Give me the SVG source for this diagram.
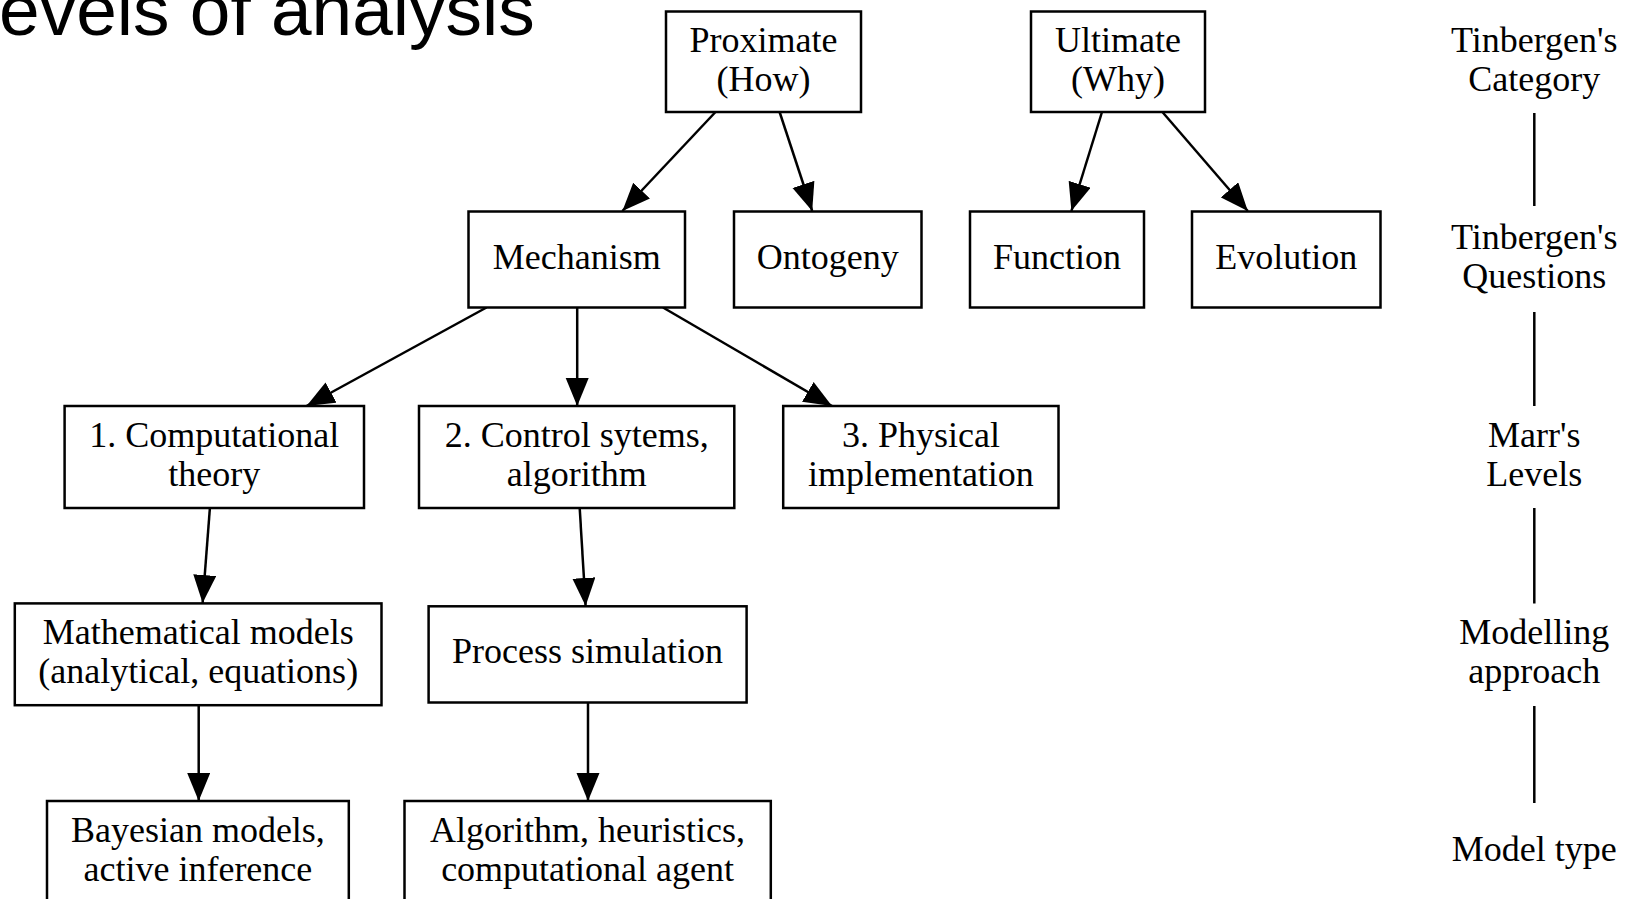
<svg xmlns="http://www.w3.org/2000/svg" width="1640" height="899" viewBox="0 0 1640 899">
  <style>
    .box { fill: #ffffff; stroke: #000000; stroke-width: 2.5; }
    .lbl { font-family: "Liberation Serif", "Times New Roman", serif; font-size: 36px; fill: #000000; text-anchor: middle; }
    .edge { fill: none; stroke: #000000; stroke-width: 2.5; }
    .title { font-family: "Liberation Sans", Arial, sans-serif; font-size: 73px; fill: #000000; }
  </style>
  <defs>
    <marker id="head" markerUnits="userSpaceOnUse" markerWidth="30" markerHeight="24" refX="28" refY="11.5" orient="auto">
      <path d="M0,0 L28,11.5 L0,23 z" fill="#000000"/>
    </marker>
  </defs>
  <rect width="1640" height="899" fill="#ffffff"/>

  <text class="title" x="-41.5" y="34.5">Levels of analysis</text>

  <!-- connectors -->
  <g id="connectors">
    <line class="edge" x1="715.5" y1="112" x2="622.4" y2="211" marker-end="url(#head)"/>
    <line class="edge" x1="779.6" y1="112" x2="812.2" y2="211" marker-end="url(#head)"/>
    <line class="edge" x1="1102" y1="112" x2="1071.4" y2="211" marker-end="url(#head)"/>
    <line class="edge" x1="1162.4" y1="112" x2="1247.8" y2="211" marker-end="url(#head)"/>
    <line class="edge" x1="486.5" y1="307.5" x2="306.5" y2="406" marker-end="url(#head)"/>
    <line class="edge" x1="577.2" y1="307.5" x2="577.2" y2="406" marker-end="url(#head)"/>
    <line class="edge" x1="663" y1="307.5" x2="832" y2="406" marker-end="url(#head)"/>
    <line class="edge" x1="209.9" y1="508" x2="202.6" y2="603" marker-end="url(#head)"/>
    <line class="edge" x1="579.7" y1="508" x2="585.6" y2="606" marker-end="url(#head)"/>
    <line class="edge" x1="198.7" y1="705" x2="198.7" y2="801" marker-end="url(#head)"/>
    <line class="edge" x1="588" y1="702.5" x2="588" y2="801" marker-end="url(#head)"/>
    <!-- side legend links -->
    <line class="edge" x1="1534.3" y1="113" x2="1534.3" y2="206"/>
    <line class="edge" x1="1534.3" y1="312" x2="1534.3" y2="406"/>
    <line class="edge" x1="1534.3" y1="508" x2="1534.3" y2="603.5"/>
    <line class="edge" x1="1534.3" y1="706" x2="1534.3" y2="803"/>
  </g>

  <g id="proximate">
    <rect class="box" x="666" y="11.5" width="195" height="100.5"/>
    <text class="lbl" x="763.5" y="51.5">Proximate</text>
    <text class="lbl" x="763.5" y="90.5">(How)</text>
  </g>
  <g id="ultimate">
    <rect class="box" x="1031" y="11.5" width="174" height="100.5"/>
    <text class="lbl" x="1118" y="51.5">Ultimate</text>
    <text class="lbl" x="1118" y="90.5">(Why)</text>
  </g>
  <g id="mechanism">
    <rect class="box" x="468.5" y="211.5" width="216.5" height="96"/>
    <text class="lbl" x="576.8" y="268.5">Mechanism</text>
  </g>
  <g id="ontogeny">
    <rect class="box" x="734" y="211.5" width="187.5" height="96"/>
    <text class="lbl" x="827.8" y="268.5">Ontogeny</text>
  </g>
  <g id="function">
    <rect class="box" x="970" y="211.5" width="174" height="96"/>
    <text class="lbl" x="1057" y="268.5">Function</text>
  </g>
  <g id="evolution">
    <rect class="box" x="1192" y="211.5" width="188.5" height="96"/>
    <text class="lbl" x="1286.3" y="268.5">Evolution</text>
  </g>
  <g id="computational">
    <rect class="box" x="64.6" y="406" width="299.4" height="102"/>
    <text class="lbl" x="214.3" y="446.5">1. Computational</text>
    <text class="lbl" x="214.3" y="485.5">theory</text>
  </g>
  <g id="control">
    <rect class="box" x="419" y="406" width="315.3" height="102"/>
    <text class="lbl" x="576.7" y="446.5">2. Control sytems,</text>
    <text class="lbl" x="576.7" y="485.5">algorithm</text>
  </g>
  <g id="physical">
    <rect class="box" x="783.2" y="406" width="275.3" height="102"/>
    <text class="lbl" x="920.9" y="446.5">3. Physical</text>
    <text class="lbl" x="920.9" y="485.5">implementation</text>
  </g>
  <g id="mathematical">
    <rect class="box" x="14.8" y="603.4" width="366.7" height="101.8"/>
    <text class="lbl" x="198.2" y="643.8">Mathematical models</text>
    <text class="lbl" x="198.2" y="682.8">(analytical, equations)</text>
  </g>
  <g id="process">
    <rect class="box" x="428.6" y="606.3" width="318" height="96.2"/>
    <text class="lbl" x="587.6" y="663.4">Process simulation</text>
  </g>
  <g id="bayesian">
    <rect class="box" x="47" y="801" width="301.8" height="104"/>
    <text class="lbl" x="197.9" y="842">Bayesian models,</text>
    <text class="lbl" x="197.9" y="881">active inference</text>
  </g>
  <g id="algorithm">
    <rect class="box" x="404.5" y="801" width="366.3" height="104"/>
    <text class="lbl" x="587.6" y="842">Algorithm, heuristics,</text>
    <text class="lbl" x="587.6" y="881">computational agent</text>
  </g>

  <!-- side legend -->
  <g id="legend-category">
    <text class="lbl" x="1534.3" y="51.5">Tinbergen's</text>
    <text class="lbl" x="1534.3" y="90.5">Category</text>
  </g>
  <g id="legend-questions">
    <text class="lbl" x="1534.3" y="248.5">Tinbergen's</text>
    <text class="lbl" x="1534.3" y="287.5">Questions</text>
  </g>
  <g id="legend-marr">
    <text class="lbl" x="1534.3" y="446.5">Marr's</text>
    <text class="lbl" x="1534.3" y="485.5">Levels</text>
  </g>
  <g id="legend-modelling">
    <text class="lbl" x="1534.3" y="643.8">Modelling</text>
    <text class="lbl" x="1534.3" y="682.8">approach</text>
  </g>
  <g id="legend-modeltype">
    <text class="lbl" x="1534.3" y="861">Model type</text>
  </g>
</svg>
